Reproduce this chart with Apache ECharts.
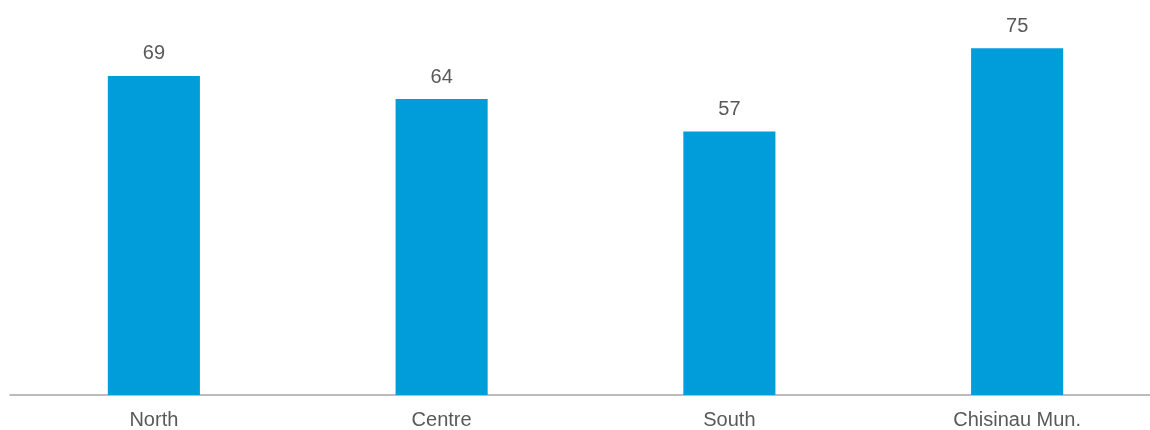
<!DOCTYPE html>
<html>
<head>
<meta charset="utf-8">
<script src="https://cdn.jsdelivr.net/npm/echarts@6/dist/echarts.min.js"></script>
<style>
  html, body { margin: 0; padding: 0; background: #ffffff; }
  #chart { width: 1150px; height: 430px; }
</style>
</head>
<body>
<div id="chart"></div>
<script>
const regions = ['North', 'Centre', 'South', 'Chisinau Mun.'];
const values = [69, 64, 57, 75];

const chart = echarts.init(document.getElementById('chart'), null, { renderer: 'canvas' });
chart.setOption({
  animation: false,
  // the last category band runs slightly past the right edge of the canvas
  grid: { left: 10, top: 25, width: 1151, bottom: 35, containLabel: false, outerBoundsMode: 'none' },
  xAxis: {
    type: 'category',
    data: regions,
    axisLine: { lineStyle: { color: '#A6A6A6', width: 1.5 } },
    axisTick: { show: false },
    axisLabel: { color: '#595959', fontFamily: 'Liberation Sans, Arial, sans-serif', fontSize: 20, margin: 15 }
  },
  yAxis: {
    type: 'value',
    min: 0,
    max: 80,
    show: false,
    splitLine: { show: false }
  },
  series: [{
    type: 'bar',
    data: values,
    barWidth: '32%',
    itemStyle: { color: '#009DDB' },
    label: {
      show: true,
      position: 'top',
      distance: 12,
      color: '#595959',
      fontFamily: 'Liberation Sans, Arial, sans-serif',
      fontSize: 20
    }
  }]
});
</script>
</body>
</html>
